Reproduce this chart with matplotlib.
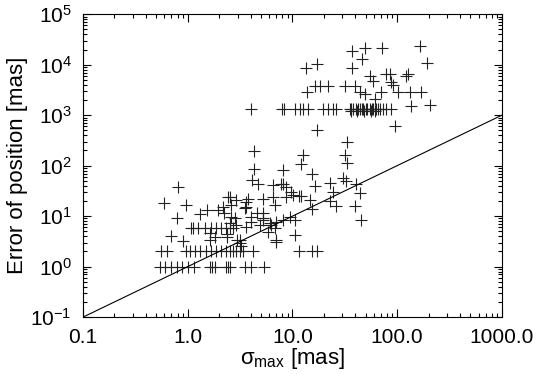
import numpy as np
import matplotlib
matplotlib.use("Agg")
import matplotlib.pyplot as plt
from matplotlib.ticker import FixedLocator, FixedFormatter, LogLocator, NullFormatter

plt.rcParams['font.family'] = ['Liberation Sans', 'DejaVu Sans']
plt.rcParams['mathtext.fontset'] = 'custom'
plt.rcParams['mathtext.rm'] = 'Liberation Sans'
plt.rcParams['mathtext.it'] = 'Liberation Sans:italic'

# Data (sigma_max [mas], error of position [mas])
# rows of quantised errors
row1_x = [0.54, 0.61, 0.70, 0.79, 0.89, 1.0, 1.15, 1.62, 1.71, 1.81, 2.31, 2.43,
          2.52, 3.55, 4.06, 5.3]
row2_x = [0.56, 0.63, 0.97, 1.05, 1.17, 1.30, 1.51, 1.68, 1.88, 2.10, 2.34, 2.52,
          2.70, 2.92, 3.14, 3.37, 4.20, 11.5, 15.5, 17.0]
row6_x = [1.08, 1.12, 1.25, 1.45, 1.68, 1.88, 2.10, 2.34, 2.52, 2.70]
row1330_x = [4.06, 7.89, 8.26, 10.5, 11.7, 12.6, 14.1, 19.6, 21.8, 24.4, 26.3,
             35.2, 36.6, 37.6, 40.8, 42.0, 43.9, 46.0, 47.2, 50.8, 52.0, 54.6,
             57.0, 58.7, 63.3, 65.0, 68.1, 73.2, 78.9, 88.1]
row1200_x = [36.0, 41.5, 48.5, 56.0, 62.0]

# scattered points
top_x = [164, 194, 37.4, 49, 72, 46, 36.7, 13.6, 17.3,
         54.6, 58.7, 78.9, 84.8, 122, 127, 88, 91,
         16.3, 18.5, 21.8, 31.5, 39.3,
         13.7, 43.9, 49, 70.6, 102, 132, 170, 61,
         137, 208, 95, 17, 33.2]
top_y = [23700, 10800, 18500, 21500, 21500, 12900, 8500, 8800, 10100,
         6040, 4820, 6530, 6530, 6040, 6530, 4460, 4010,
         3840, 3840, 3840, 3840, 3840,
         2900, 2830, 2630, 2830, 2830, 2830, 2830, 2100,
         1550, 1620, 600, 510, 292]

mid_x = [31.5, 33.5, 12.6, 12.2, 15.4, 16.6, 23, 30.4, 32.7, 40.2, 43.9, 24.4,
         23, 25.9, 39.3, 14.6, 15.5, 12.2, 45.5,
         4.30, 4.30, 4.10, 4.65, 6.6, 7.84, 8.1, 8.75, 8.13, 9.75,
         2.52, 2.92, 3.63, 3.77, 3.63, 5.24, 6.52, 6.77, 8.75, 10.1, 11.6,
         3.5, 4.06, 5.24, 2.61, 2.81, 2.92, 2.2, 2.6,
         4.87, 6.06, 7.03, 8.13, 9.41, 10.5, 5.84, 7.03, 10.5, 3.14,
         3.63, 4.06, 5.24, 6.3, 6.77, 4.55]
mid_y = [165, 112, 165, 110, 69.5, 40, 45.4, 58, 49, 44.2, 28.8, 30.2,
         19.8, 15.7, 15.7, 20.7, 13.6, 24.8, 8.3,
         194, 87, 51, 44, 42, 42.8, 44, 38, 80.7, 30,
         24, 20.7, 19.1, 22.3, 15.2, 22.3, 24, 16.5, 24, 26, 25,
         14.2, 9.7, 11.3, 9.7, 9.0, 6.6, 11.3, 17,
         6.6, 7.2, 7.7, 8.3, 9.7, 8.3, 4.9, 3.1, 4.2, 2.9,
         6.15, 7.7, 9.0, 6.6, 5.7, 11.3]

low_x = [0.59, 0.80, 0.97, 0.79, 1.3, 0.70, 0.9, 1.95, 2.17, 2.43,
         1.62, 1.62, 1.81, 2.35, 2.4, 2.95, 3.15, 3.2, 1.52, 2.53, 7.0, 5.27]
low_y = [18.6, 38, 17, 9, 11, 4.1, 3.2, 13.1, 15.2, 24,
         4.6, 3.4, 3.9, 4.5, 3.9, 3.3, 3.4, 2.6, 13.5, 7.2, 3.4, 8.3]

x_ticks = [0.1, 1, 10, 100, 1000]
x_ticklabels = ['0.1', '1.0', '10.0', '100.0', '1000.0']
y_ticks = [0.1, 1, 10, 100, 1000, 1e4, 1e5]
y_ticklabels = [r'$10^{-1}$', r'$10^{0}$', r'$10^{1}$', r'$10^{2}$',
                r'$10^{3}$', r'$10^{4}$', r'$10^{5}$']

xs = (row1_x + row2_x + row6_x + row1330_x + row1200_x + top_x + mid_x + low_x)
ys = ([1.0] * len(row1_x) + [2.0] * len(row2_x) + [5.9] * len(row6_x)
      + [1330] * len(row1330_x) + [1220] * len(row1200_x) + top_y + mid_y + low_y)

fig = plt.figure(figsize=(5.35, 3.74), dpi=100)
ax = fig.add_axes([0.155, 0.152, 0.783, 0.810])

ax.plot(xs, ys, linestyle='none', marker='+', markersize=9, mew=0.8,
        color='#222222')
ax.plot([0.1, 1000], [0.1, 1000], color='black', lw=0.8)

ax.set_xscale('log')
ax.set_yscale('log')
ax.set_xlim(0.1, 1000)
ax.set_ylim(0.1, 1e5)

ax.xaxis.set_major_locator(FixedLocator(x_ticks))
ax.xaxis.set_major_formatter(FixedFormatter(x_ticklabels))
ax.xaxis.set_minor_locator(LogLocator(base=10, subs=np.arange(2, 10), numticks=20))
ax.xaxis.set_minor_formatter(NullFormatter())
ax.yaxis.set_major_locator(FixedLocator(y_ticks))
ax.yaxis.set_major_formatter(FixedFormatter(y_ticklabels))
ax.yaxis.set_minor_locator(LogLocator(base=10, subs=np.arange(2, 10), numticks=20))
ax.yaxis.set_minor_formatter(NullFormatter())

ax.tick_params(which='both', direction='in', top=True, right=True, width=0.8,
               labelsize=15, pad=8)
ax.tick_params(which='major', length=5.5)
ax.tick_params(which='minor', length=2.8)
for s in ax.spines.values():
    s.set_linewidth(0.8)

ax.set_xlabel(r'$\mathrm{\sigma_{max}}$ [mas]', fontsize=16, labelpad=-1)
ax.set_ylabel('Error of position [mas]', fontsize=16, labelpad=2)

fig.savefig('out.png', dpi=100)
